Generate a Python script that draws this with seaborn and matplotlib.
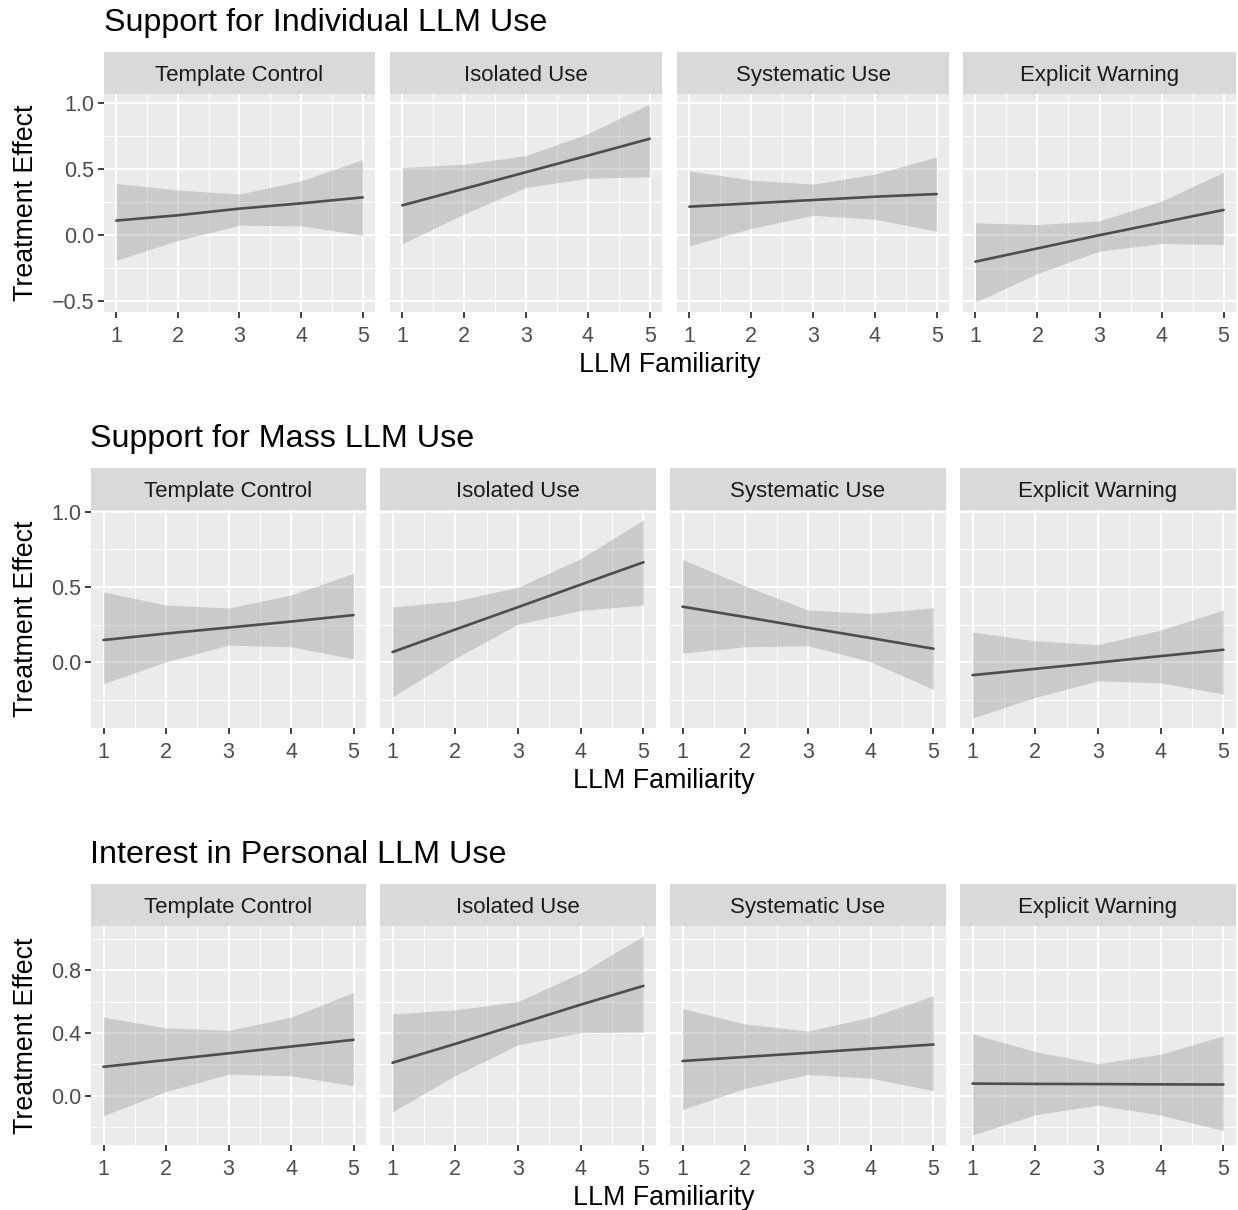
import numpy as np
import pandas as pd
import matplotlib.pyplot as plt
import seaborn as sns

familiarity = [1, 2, 3, 4, 5]
conditions = ["Template Control", "Isolated Use", "Systematic Use", "Explicit Warning"]
outcomes = ["Support for Individual LLM Use", "Support for Mass LLM Use", "Interest in Personal LLM Use"]

# Support for Individual LLM Use
indiv_fit = {"Template Control": [0.11, 0.15, 0.20, 0.24, 0.285],
             "Isolated Use": [0.225, 0.35, 0.475, 0.60, 0.727],
             "Systematic Use": [0.215, 0.24, 0.265, 0.29, 0.31],
             "Explicit Warning": [-0.20, -0.10, 0.0, 0.095, 0.19]}
indiv_hi = {"Template Control": [0.39, 0.34, 0.31, 0.41, 0.57],
            "Isolated Use": [0.51, 0.535, 0.60, 0.765, 0.99],
            "Systematic Use": [0.485, 0.415, 0.385, 0.46, 0.59],
            "Explicit Warning": [0.093, 0.08, 0.108, 0.257, 0.475]}
indiv_lo = {"Template Control": [-0.19, -0.04, 0.075, 0.07, 0.0],
            "Isolated Use": [-0.065, 0.16, 0.36, 0.43, 0.44],
            "Systematic Use": [-0.08, 0.05, 0.15, 0.12, 0.03],
            "Explicit Warning": [-0.505, -0.29, -0.12, -0.063, -0.07]}

# Support for Mass LLM Use
mass_fit = {"Template Control": [0.147, 0.19, 0.23, 0.27, 0.313],
            "Isolated Use": [0.067, 0.217, 0.366, 0.516, 0.665],
            "Systematic Use": [0.369, 0.30, 0.229, 0.16, 0.089],
            "Explicit Warning": [-0.087, -0.045, -0.003, 0.04, 0.082]}
mass_hi = {"Template Control": [0.467, 0.38, 0.36, 0.447, 0.591],
           "Isolated Use": [0.367, 0.407, 0.498, 0.689, 0.947],
           "Systematic Use": [0.684, 0.507, 0.347, 0.324, 0.362],
           "Explicit Warning": [0.20, 0.142, 0.116, 0.213, 0.347]}
mass_lo = {"Template Control": [-0.144, 0.002, 0.113, 0.102, 0.022],
           "Isolated Use": [-0.231, 0.024, 0.253, 0.344, 0.38],
           "Systematic Use": [0.06, 0.102, 0.109, 0.002, -0.182],
           "Explicit Warning": [-0.373, -0.235, -0.125, -0.138, -0.213]}

# Interest in Personal LLM Use
pers_fit = {"Template Control": [0.184, 0.227, 0.27, 0.313, 0.356],
            "Isolated Use": [0.21, 0.33, 0.455, 0.58, 0.70],
            "Systematic Use": [0.221, 0.247, 0.273, 0.30, 0.326],
            "Explicit Warning": [0.077, 0.075, 0.074, 0.072, 0.071]}
pers_hi = {"Template Control": [0.50, 0.433, 0.416, 0.50, 0.658],
           "Isolated Use": [0.521, 0.547, 0.60, 0.782, 1.018],
           "Systematic Use": [0.555, 0.457, 0.412, 0.50, 0.637],
           "Explicit Warning": [0.394, 0.281, 0.204, 0.264, 0.382]}
pers_lo = {"Template Control": [-0.127, 0.026, 0.137, 0.127, 0.064],
           "Isolated Use": [-0.103, 0.129, 0.324, 0.401, 0.405],
           "Systematic Use": [-0.088, 0.047, 0.135, 0.111, 0.032],
           "Explicit Warning": [-0.251, -0.122, -0.06, -0.124, -0.223]}

row_data = [(indiv_fit, indiv_lo, indiv_hi), (mass_fit, mass_lo, mass_hi), (pers_fit, pers_lo, pers_hi)]
y_major = [[-0.5, 0.0, 0.5, 1.0], [0.0, 0.5, 1.0], [0.0, 0.4, 0.8]]
y_minor = [[-0.25, 0.25, 0.75], [-0.25, 0.25, 0.75], [-0.2, 0.2, 0.6, 1.0]]

# pixel layout of each row
layout = [
    dict(strip=52, top=94, bottom=312, title_x=104,
         xs=[(104, 375), (390, 662), (677, 949), (963, 1236)]),
    dict(strip=468, top=510, bottom=728, title_x=90,
         xs=[(91, 366), (380, 656), (670, 946), (960, 1236)]),
    dict(strip=884, top=926, bottom=1145, title_x=90,
         xs=[(91, 366), (380, 656), (670, 946), (960, 1236)]),
]

sns.set_theme(style="white")
plt.rcParams['font.family'] = ['Liberation Sans', 'DejaVu Sans']

W, H = 1238, 1210
fig = plt.figure(figsize=(W / 100, H / 100), dpi=100)


def px_axes(x0, y0, x1, y1):
    return fig.add_axes([x0 / W, 1 - y1 / H, (x1 - x0) / W, (y1 - y0) / H])


for r, (fit, lo, hi) in enumerate(row_data):
    lay = layout[r]
    all_lo = min(min(v) for v in lo.values())
    all_hi = max(max(v) for v in hi.values())
    pad = 0.05 * (all_hi - all_lo)
    ylim = (all_lo - pad, all_hi + pad)

    for c, cond in enumerate(conditions):
        x0, x1 = lay["xs"][c]
        ax = px_axes(x0, lay["top"], x1, lay["bottom"])
        ax.set_facecolor("#EBEBEB")
        for s in ax.spines.values():
            s.set_visible(False)

        df = pd.DataFrame({"LLM Familiarity": familiarity, "est": fit[cond],
                           "lo": lo[cond], "hi": hi[cond]})
        ax.fill_between(df["LLM Familiarity"], df["lo"], df["hi"],
                        color="#999999", alpha=0.4, linewidth=0, zorder=2)
        sns.lineplot(data=df, x="LLM Familiarity", y="est", ax=ax,
                     color="#4D4D4D", linewidth=1.9, zorder=3)

        ax.set_xlim(0.8, 5.2)
        ax.set_ylim(*ylim)
        ax.set_xticks(familiarity)
        ax.set_xticks([1.5, 2.5, 3.5, 4.5], minor=True)
        ax.set_yticks(y_major[r])
        ax.set_yticks(y_minor[r], minor=True)
        ax.grid(which="major", color="white", linewidth=1.5, zorder=1)
        ax.grid(which="minor", color="white", linewidth=0.75, zorder=1)
        ax.set_axisbelow(True)
        ax.tick_params(which="major", length=4.3, width=1.3, color="#333333",
                       labelsize=15.5, labelcolor="#4D4D4D",
                       bottom=True, left=(c == 0))
        ax.tick_params(axis="x", which="major", pad=5.5)
        ax.tick_params(axis="y", which="major", pad=2.5)
        ax.tick_params(which="minor", length=0)
        ax.set_xlabel("")
        ax.set_ylabel("")
        if c == 0:
            ax.set_yticklabels([f"{v:.1f}".replace("-", "\u2212") for v in y_major[r]])
        else:
            ax.set_yticklabels([])

        # facet strip
        sax = px_axes(x0, lay["strip"], x1, lay["top"])
        sax.set_facecolor("#D9D9D9")
        for s in sax.spines.values():
            s.set_visible(False)
        sax.set_xticks([])
        sax.set_yticks([])
        sax.text(0.5, 0.30, cond, ha="center", va="baseline", fontsize=16,
                 color="#1A1A1A", transform=sax.transAxes)

    # row title, axis titles
    fig.text(lay["title_x"] / W, 1 - (lay["strip"] - 21) / H, outcomes[r],
             ha="left", va="baseline", fontsize=23.2, color="black")
    left, right = lay["xs"][0][0], lay["xs"][-1][1]
    fig.text((left + right) / 2 / W, 1 - (lay["bottom"] + 53) / H, "LLM Familiarity",
             ha="center", va="center", fontsize=19.3, color="black")
    fig.text(26 / W, 1 - (lay["top"] + lay["bottom"]) / 2 / H, "Treatment Effect",
             ha="center", va="center", rotation=90, fontsize=19.3, color="black")

fig.savefig("out.png", dpi=100, facecolor="white")
